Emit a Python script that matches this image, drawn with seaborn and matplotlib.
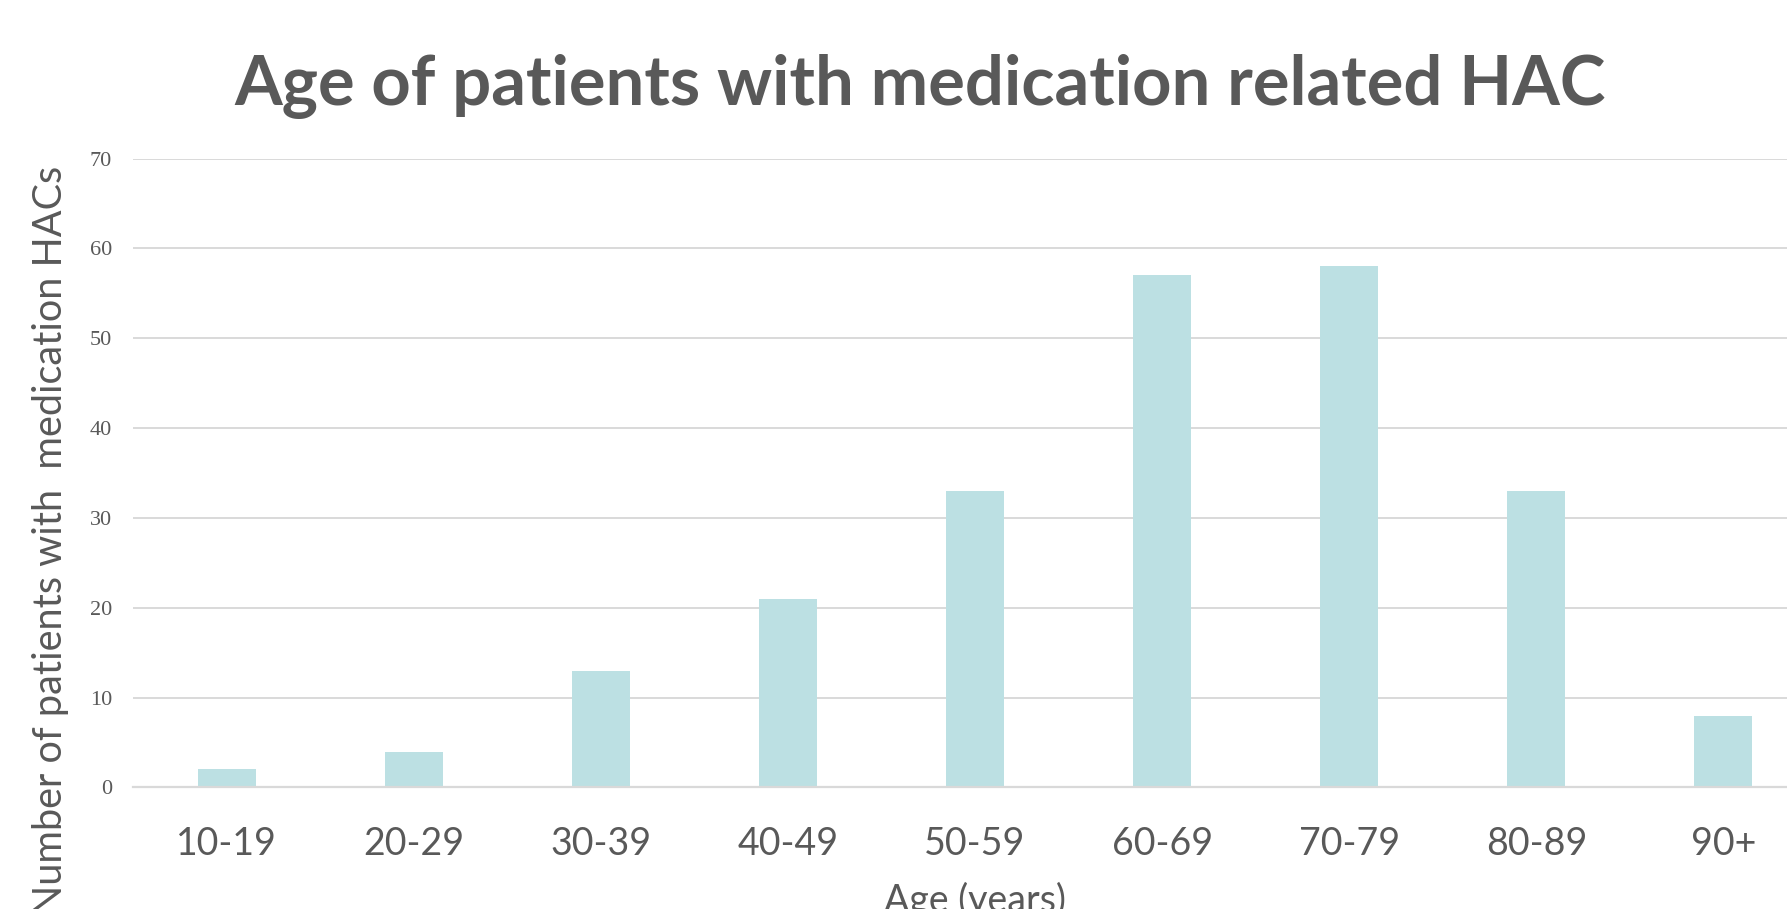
import matplotlib
matplotlib.use("Agg")
import matplotlib.pyplot as plt
import seaborn as sns
import pandas as pd

# Patients with medication-related HACs, by age band
age_groups = ["10-19", "20-29", "30-39", "40-49", "50-59", "60-69", "70-79", "80-89", "90+"]
patients = [2, 4, 13, 21, 33, 57, 58, 33, 8]
y_ticks = [0, 10, 20, 30, 40, 50, 60, 70]

TEXT = "#595959"
BAR = "#BCE0E3"
GRID = "#D9D9D9"

sns.set_theme(style="white")
plt.rcParams["font.family"] = ["Lato", "DejaVu Sans"]

df = pd.DataFrame({"age": age_groups, "patients": patients})

fig = plt.figure(figsize=(17.87, 9.09), dpi=100)
ax = fig.add_axes([0.0744, 0.1337, 0.9424, 0.6919])

sns.barplot(data=df, x="age", y="patients", color=BAR, saturation=1,
            width=0.31, linewidth=0, ax=ax, zorder=3)

ax.set_ylim(0, 70)
ax.set_yticks(y_ticks)
ax.yaxis.grid(True, color=GRID, linewidth=1.4, zorder=0)
ax.set_axisbelow(True)
for side in ["top", "right", "left"]:
    ax.spines[side].set_visible(False)
ax.spines["bottom"].set_color(GRID)
ax.spines["bottom"].set_linewidth(1.6)
ax.spines["bottom"].set_zorder(4)

ax.set_xlabel("")
ax.set_ylabel("")
ax.tick_params(axis="x", length=0, pad=28, labelsize=27, labelcolor=TEXT)
ax.tick_params(axis="y", length=0, pad=15, labelsize=16, labelcolor=TEXT)
for lbl in ax.get_yticklabels():
    lbl.set_fontfamily("Liberation Serif")

fig.text(0.515, 0.905, "Age of patients with medication related HAC",
         ha="center", va="center", fontsize=49.5, fontweight="bold", color=TEXT)
fig.text(0.0285, 0.818, "Number of patients with  medication HACs",
         rotation=90, ha="center", va="top", fontsize=28.5, color=TEXT)
fig.text(0.5456, 0.030, "Age (years)", ha="center", va="top",
         fontsize=27, color=TEXT)

fig.savefig("out.png", dpi=100)
